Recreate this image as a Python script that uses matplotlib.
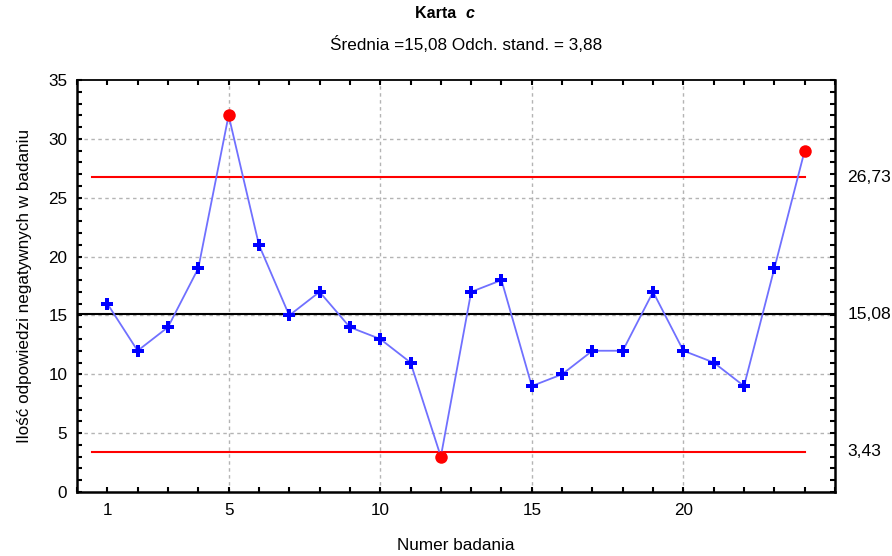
import matplotlib
matplotlib.use("Agg")
import matplotlib.pyplot as plt
from matplotlib.ticker import MultipleLocator, FixedLocator

plt.rcParams["font.family"] = ["Liberation Sans", "DejaVu Sans"]

# sample number and count of negative answers
samples = list(range(1, 25))
counts = [16, 12, 14, 19, 32, 21, 15, 17, 14, 13, 11, 3,
          17, 18, 9, 10, 12, 12, 17, 12, 11, 9, 19, 29]

mean_c = 15.08
std_c = 3.88
ucl = 26.73
lcl = 3.43
limit_labels = ["26,73", "15,08", "3,43"]

fs = 12.3

fig = plt.figure(figsize=(8.92, 5.56), dpi=100)
ax = fig.add_axes([77 / 892, 1 - 492 / 556, 758 / 892, 412 / 556])

grid_style = dict(color="#b4b4b4", linestyle=(0, (2.5, 2.5)), linewidth=1, zorder=0)
for gy in [5, 10, 15, 20, 25, 30]:
    ax.axhline(gy, **grid_style)
for gx in [5, 10, 15, 20]:
    ax.axvline(gx, **grid_style)

# control lines
ax.plot([0.5, 24], [ucl, ucl], color="red", linewidth=1.5, zorder=2)
ax.plot([0.5, 24], [lcl, lcl], color="red", linewidth=1.5, zorder=2)
ax.axhline(mean_c, color="black", linewidth=1.5, zorder=2)

# data line
ax.plot(samples, counts, color="#7070ff", linewidth=1.3, zorder=3)

inside = [(s, c) for s, c in zip(samples, counts) if lcl <= c <= ucl]
outside = [(s, c) for s, c in zip(samples, counts) if c < lcl or c > ucl]

ax.plot([p[0] for p in inside], [p[1] for p in inside], linestyle="none",
        marker="P", markersize=8.5, color="#0000ff", markeredgewidth=0, zorder=4)
ax.plot([p[0] for p in outside], [p[1] for p in outside], linestyle="none",
        marker="o", markersize=9, color="#ff0000", markeredgewidth=0, zorder=4)

ax.set_xlim(0, 25)
ax.set_ylim(0, 35)
ax.xaxis.set_major_locator(FixedLocator([1, 5, 10, 15, 20]))
ax.xaxis.set_minor_locator(MultipleLocator(1))
ax.yaxis.set_major_locator(MultipleLocator(5))
ax.yaxis.set_minor_locator(MultipleLocator(1))

ax.tick_params(which="both", direction="in", top=True, right=True,
               length=3.5, width=1.5, labelsize=fs, color="black")
ax.tick_params(axis="x", which="major", pad=8)
ax.tick_params(axis="y", which="major", pad=7)
for sp in ax.spines.values():
    sp.set_linewidth(1.8)
ax.spines["top"].set_linewidth(1.3)

for val, lab in zip([ucl, mean_c, lcl], limit_labels):
    ax.text(25.4, val, lab, va="center", ha="left", fontsize=12.6,
            transform=ax.transData, clip_on=False)

ax.set_xlabel("Numer badania", fontsize=fs, labelpad=14)
ax.set_ylabel("Ilość odpowiedzi negatywnych w badaniu", fontsize=fs, labelpad=12)

fig.text(465 / 892, 1 - 14 / 556, "Karta  ", ha="right", va="center",
         fontsize=11.5, fontweight="bold")
fig.text(465 / 892, 1 - 14 / 556, "c", ha="left", va="center",
         fontsize=11.5, fontweight="bold", fontstyle="italic")
fig.text(466 / 892, 1 - 45 / 556,
         "Średnia =15,08 Odch. stand. = 3,88", ha="center", va="center",
         fontsize=fs)

fig.savefig("out.png", dpi=100)
